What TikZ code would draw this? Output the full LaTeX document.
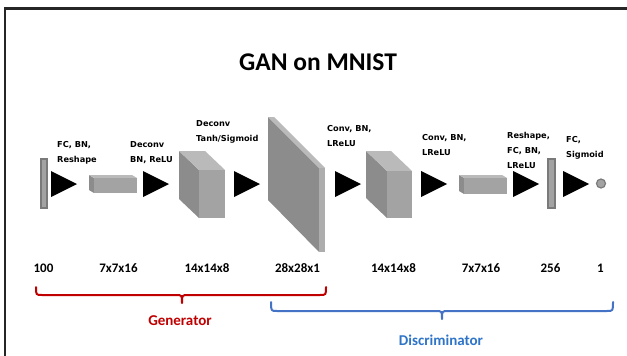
\documentclass[tikz,border=0pt]{standalone}
\usepackage{fontspec}
\setmainfont{Carlito}
\newfontfamily\lblfont{DejaVu Sans}
\definecolor{frontc}{HTML}{A3A3A3}
\definecolor{sidec}{HTML}{8C8C8C}
\definecolor{topc}{HTML}{BABABA}
\definecolor{stripc}{HTML}{ADADAD}
\definecolor{barfill}{HTML}{A3A3A3}
\definecolor{barline}{HTML}{7A7A7A}
\definecolor{genred}{HTML}{C00000}
\definecolor{disblue}{HTML}{4472C4}
\definecolor{distext}{HTML}{2E74C8}
\newcommand\mycuboid[7]{%
  % #1 name, front face (#2,#3)-(#4,#5), depth (#6,#7)
  \fill[sidec] (#2,#3) -- ({#2+#6},{#3+#7}) -- ({#2+#6},{#5+#7}) -- (#2,#5) -- cycle;
  \fill[topc] (#2,#3) -- ({#2+#6},{#3+#7}) -- ({#4+#6},{#3+#7}) -- (#4,#3) -- cycle;
  \fill[frontc] (#2,#3) rectangle (#4,#5);
  \coordinate (#1) at ({(#2+#4)/2},{(#3+#5)/2});
}
\newcommand\mytri[2]{%
  % #1 name, #2 tip x
  \fill[black] ({#2-26},171) -- (#2,184) -- ({#2-26},197) -- cycle;
  \coordinate (#1) at ({#2-10},184);
}
\begin{document}
\begin{tikzpicture}[x=1pt,y=-1pt,
  lbl/.style={font=\lblfont\bfseries\fontsize{8.2}{15}\selectfont, align=left, anchor=west, inner sep=0pt},
  dimlbl/.style={font=\bfseries\fontsize{13}{15}\selectfont, inner sep=0pt},
  barbox/.style={fill=barfill, draw=barline, line width=1.2pt},
  bracel/.style={line width=2pt, line cap=round, line join=round}]
\useasboundingbox (0,0) rectangle (627,356);
\fill[white] (0,0) rectangle (627,356);
% frame
\draw[line width=2.6pt, black!85, line join=miter] (630,8.5) -- (4.8,8.5) -- (4.8,360);
% title
\node[font=\bfseries\fontsize{25.5}{28}\selectfont, inner sep=0pt] (title) at (318,62) {GAN on MNIST};
% input bar
\draw[barbox] (41,159) rectangle (47,208);
\coordinate (bar1) at (44,183.5);
\mytri{t1}{77}
\mycuboid{b2}{94}{178}{137}{193}{-5}{-3}
\mytri{t2}{169}
\mycuboid{b3}{199}{170}{225}{218}{-20}{-19}
\mytri{t3}{260}
% slab
\fill[sidec] (319,168) -- (268,117) -- (268,200) -- (319,252) -- cycle;
\fill[topc] (268,117) -- (274,117) -- (325,168) -- (319,168) -- cycle;
\fill[stripc] (319,168) rectangle (325,252);
\coordinate (b4) at (296,185);
\mytri{t4}{361}
\mycuboid{b5}{387}{171}{412}{218}{-21}{-20}
\mytri{t5}{447}
\mycuboid{b6}{464}{178}{507}{194}{-5}{-3}
\mytri{t6}{539}
\draw[barbox] (548,159) rectangle (555,208);
\coordinate (bar7) at (551.5,183.5);
\mytri{t7}{589}
\draw[barbox] (601,183.5) circle (4.5);
\coordinate (out) at (601,183.5);
% operation labels
\node[lbl] (l1) at (57,152.5) {FC, BN,\\Reshape};
\node[lbl] (l2) at (130,152.5) {Deconv\\BN, ReLU};
\node[lbl] (l3) at (196,131.5) {Deconv\\Tanh/Sigmoid};
\node[lbl] (l4) at (327,136.5) {Conv, BN,\\LReLU};
\node[lbl] (l5) at (422,145) {Conv, BN,\\LReLU};
\node[lbl] (l6) at (507,150.5) {Reshape,\\FC, BN,\\LReLU};
\node[lbl] (l7) at (566,148) {FC,\\Sigmoid};
% dimension labels
\node[dimlbl] (d1) at (43.5,268) {100};
\node[dimlbl] (d2) at (118.5,268) {7x7x16};
\node[dimlbl] (d3) at (207,268) {14x14x8};
\node[dimlbl] (d4) at (297.5,268) {28x28x1};
\node[dimlbl] (d5) at (393.5,268) {14x14x8};
\node[dimlbl] (d6) at (481,268) {7x7x16};
\node[dimlbl] (d7) at (550.5,268) {256};
\node[dimlbl] (d8) at (600.5,268) {1};
% braces
\draw[bracel, genred] (36,287) .. controls (36,295) .. (42,295) -- (176,295)
  .. controls (182,295) .. (182,303) .. controls (182,295) .. (188,295) -- (320,295)
  .. controls (326,295) .. (326,287);
\draw[bracel, disblue] (271,302) .. controls (271,311) .. (277,311) -- (436,311)
  .. controls (442,311) .. (442,319) .. controls (442,311) .. (448,311) -- (607,311)
  .. controls (613,311) .. (613,302);
\node[font=\bfseries\fontsize{15}{17}\selectfont, text=genred, inner sep=0pt] (gen) at (180,321) {Generator};
\node[font=\bfseries\fontsize{15}{17}\selectfont, text=distext, inner sep=0pt] (dis) at (441,340) {Discriminator};
\end{tikzpicture}
\end{document}
